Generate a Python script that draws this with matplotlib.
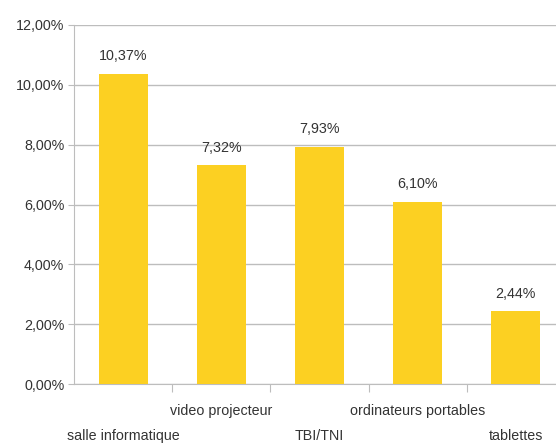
import matplotlib
matplotlib.use("Agg")
import matplotlib.pyplot as plt
import matplotlib.transforms as mtransforms

categories = ["salle informatique", "video projecteur", "TBI/TNI",
              "ordinateurs portables", "tablettes"]
values = [10.37, 7.32, 7.93, 6.10, 2.44]
yticks = [0, 2, 4, 6, 8, 10, 12]

plt.rcParams['font.family'] = ['Liberation Sans Narrow', 'Liberation Sans', 'DejaVu Sans']

bar_color = '#FCD022'
grid_color = '#BDBDBD'
text_color = '#333333'


def fr_pct(v):
    return f"{v:.2f}".replace('.', ',') + '%'


fig = plt.figure(figsize=(5.56, 4.46), dpi=100)
ax = fig.add_axes([74 / 556, (446 - 384) / 446, 1 - 74 / 556, (384 - 25) / 446])

x = list(range(len(categories)))
ax.bar(x, values, width=0.5, color=bar_color, zorder=3)

for xi, v in zip(x, values):
    ax.text(xi, v + 0.35, fr_pct(v), ha='center', va='bottom',
            fontsize=10.3, color=text_color)

ax.set_ylim(0, 12)
ax.set_xlim(-0.5, 4.41)
ax.set_yticks(yticks)
ax.set_yticklabels([fr_pct(t) for t in yticks], fontsize=10.3, color=text_color)
ax.yaxis.grid(True, color=grid_color, linewidth=1, zorder=0)
ax.tick_params(axis='y', length=4, color=grid_color, pad=3)

# tick marks between categories, labels drawn separately (staggered)
ax.set_xticks([i + 0.5 for i in range(len(categories) - 1)])
ax.set_xticklabels([])
ax.tick_params(axis='x', length=6, color=grid_color, direction='out')

trans = mtransforms.blended_transform_factory(ax.transData, ax.transAxes)
for i, lab in enumerate(categories):
    y = -0.075 if i % 2 else -0.145
    ax.text(i, y, lab, transform=trans, ha='center', va='center',
            fontsize=10.3, color=text_color)

for s in ['top', 'right']:
    ax.spines[s].set_visible(False)
for s in ['left', 'bottom']:
    ax.spines[s].set_color(grid_color)

fig.savefig('out.png', dpi=100)
